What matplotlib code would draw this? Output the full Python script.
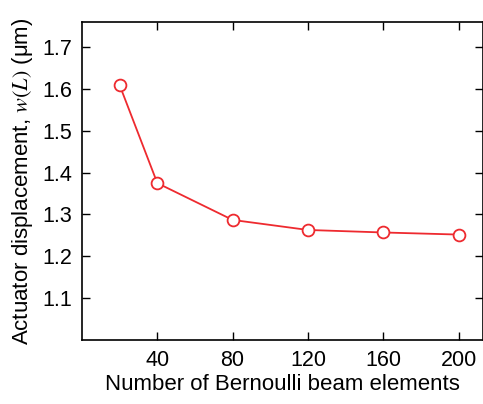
import numpy as np
import matplotlib
matplotlib.use('Agg')
import matplotlib.pyplot as plt

plt.rcParams['font.family'] = ['Liberation Sans', 'DejaVu Sans']
plt.rcParams['mathtext.fontset'] = 'stix'

n_elements = [20, 40, 80, 120, 160, 200]
displacement = [1.609, 1.375, 1.287, 1.263, 1.257, 1.252]
xticks = [40, 80, 120, 160, 200]
yticks = [1.1, 1.2, 1.3, 1.4, 1.5, 1.6, 1.7]

fig = plt.figure(figsize=(4.83, 4.04), dpi=100)
ax = fig.add_axes([0.1698, 0.1584, 0.8302, 0.7871])

ax.plot(n_elements, displacement, '-', color='#ee2a2f', lw=1.3,
        marker='o', ms=8.5, mfc='white', mec='#ee2a2f', mew=1.3)

ax.set_xlim(0, 213)
ax.set_ylim(1.0, 1.76)
ax.set_xticks(xticks)
ax.set_yticks(yticks)
ax.tick_params(direction='in', length=6, width=1, top=True, right=True,
               labelsize=15.5, pad=7)
for s in ax.spines.values():
    s.set_linewidth(1.2)

ax.set_xlabel('Number of Bernoulli beam elements', fontsize=16, labelpad=2)
ax.set_ylabel(r'Actuator displacement, $w(L)$ (μm)', fontsize=16, labelpad=5)

plt.savefig('out.png', dpi=100)
